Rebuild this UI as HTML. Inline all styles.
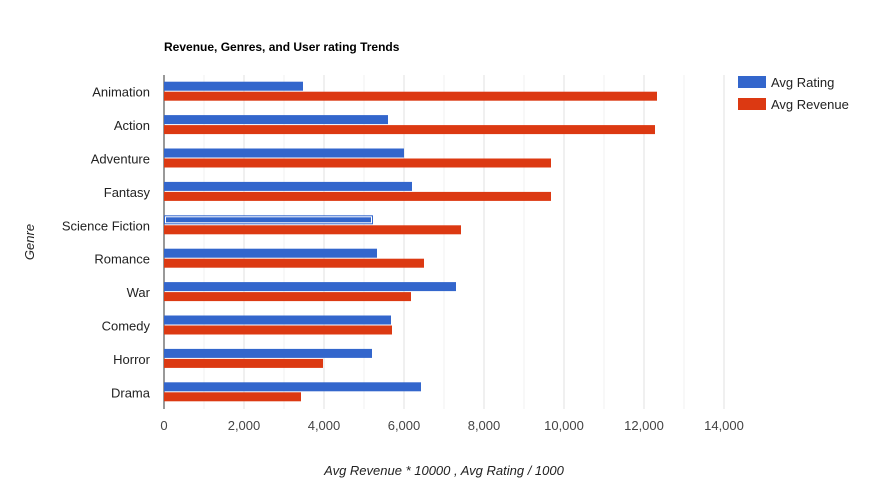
<!DOCTYPE html>
<html><head><meta charset="utf-8"><style>
body{margin:0;background:#fff;font-family:"Liberation Sans",Arial,sans-serif}
svg text{font-family:"Liberation Sans",Arial,sans-serif}
</style></head><body>
<svg id="chart" width="870" height="482" xmlns="http://www.w3.org/2000/svg">
<rect width="870" height="482" fill="#fff"/>
<text x="164" y="51" font-size="12" font-weight="bold" fill="#000">Revenue, Genres, and User rating Trends</text>
<text x="444" y="475" font-size="13" font-style="italic" fill="#222" text-anchor="middle">Avg Revenue * 10000 , Avg Rating / 1000</text>
<text x="34" y="242" font-size="13" font-style="italic" fill="#222" text-anchor="middle" transform="rotate(-90 34 242)">Genre</text>
<g id="grid"></g><g id="bars"></g><g id="labels"></g>
<g>
<rect x="738" y="76" width="28" height="12" fill="#3366cc"/>
<text x="771" y="87" font-size="13" fill="#222">Avg Rating</text>
<rect x="738" y="98" width="28" height="12" fill="#dc3912"/>
<text x="771" y="109" font-size="13" fill="#222">Avg Revenue</text>
</g>
</svg>
<script>
const categories=["Animation","Action","Adventure","Fantasy","Science Fiction","Romance","War","Comedy","Horror","Drama"];
const ratingValues=[3475,5600,6000,6200,5225,5325,7300,5675,5200,6425];
const revenueValues=[12325,12275,9675,9675,7425,6500,6175,5700,3975,3425];
const tickValues=[0,2000,4000,6000,8000,10000,12000,14000];
const tickLabels=["0","2,000","4,000","6,000","8,000","10,000","12,000","14,000"];
const NS="http://www.w3.org/2000/svg";
const x0=164,pxPer=0.04,plotTop=75,rowH=33.4;
const xs=v=>x0+v*pxPer;
const rowC=i=>plotTop+rowH*i+rowH/2;
function mk(t,a,p){const e=document.createElementNS(NS,t);for(const k in a)e.setAttribute(k,a[k]);p.appendChild(e);return e;}
const grid=document.getElementById('grid'),bars=document.getElementById('bars'),labels=document.getElementById('labels');
for(let v=1000;v<=14000;v+=1000){
 const g=mk('line',{x1:xs(v),x2:xs(v),y1:plotTop,y2:plotTop+rowH*10,stroke:v%2000?'#f0f0f0':'#e0e0e0','stroke-width':1},grid);
 
 
}
tickValues.forEach((v,i)=>{
 const t=mk('text',{x:xs(v),y:430,'font-size':13,fill:'#444','text-anchor':'middle'},labels);
 t.textContent=tickLabels[i];
 
 
});
categories.forEach((c,i)=>{
 const cy=rowC(i);
 const t=mk('text',{x:150,y:cy+5,'font-size':13,fill:'#222','text-anchor':'end'},labels);
 t.textContent=c;
 
 
 const b1=mk('rect',{x:x0,y:cy-10,width:xs(ratingValues[i])-x0,height:9,fill:'#3366cc'},bars);
 
 
 if(c==="Science Fiction"){mk('rect',{x:x0+1.5,y:cy-8.5,width:xs(ratingValues[i])-x0-3,height:6,fill:'none',stroke:'#fff','stroke-width':1},bars);}
 const b2=mk('rect',{x:x0,y:cy,width:xs(revenueValues[i])-x0,height:9,fill:'#dc3912'},bars);
 
 
});
const ax=mk('line',{x1:x0,x2:x0,y1:plotTop,y2:plotTop+rowH*10,stroke:'#333','stroke-width':1},grid);


</script>
</body></html>
